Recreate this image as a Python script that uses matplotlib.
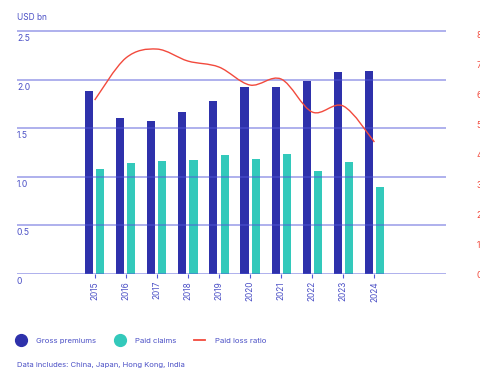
import matplotlib.pyplot as plt
from matplotlib.lines import Line2D
from matplotlib.path import Path
from matplotlib.patches import PathPatch
import numpy as np

years = ["2015", "2016", "2017", "2018", "2019", "2020", "2021", "2022", "2023", "2024"]
gross_premiums = [1.88, 1.61, 1.57, 1.67, 1.78, 1.92, 1.92, 1.99, 2.08, 2.09]
paid_claims = [1.08, 1.14, 1.16, 1.17, 1.22, 1.18, 1.24, 1.06, 1.15, 0.90]
loss_ratio = [58, 72, 75, 71, 69, 63, 65, 54, 56, 44]  # %

left_ticks = [0, 0.5, 1.0, 1.5, 2.0, 2.5]
left_labels = ["0", "0.5", "1.0", "1.5", "2.0", "2.5"]
right_ticks = [0, 10, 20, 30, 40, 50, 60, 70, 80]

NAVY = "#2e31ab"
TEAL = "#33c9bb"
RED = "#f24a3d"
GRID = "#5257d8"
TXT = "#4b50c6"

plt.rcParams["font.family"] = ["Inter", "DejaVu Sans"]

fig = plt.figure(figsize=(4.81, 3.73), dpi=100)
ax = fig.add_axes([0.0353, 0.2654, 0.8917, 0.7076])

x = np.arange(len(years))
w = 0.26
ax.bar(x - 0.18, gross_premiums, w, color=NAVY, zorder=2)
ax.bar(x + 0.18, paid_claims, w, color=TEAL, zorder=2)

ax.set_xlim(-2.5, 11.3)
ax.set_ylim(0, 2.716)
for t in left_ticks:
    ax.axhline(t, color=GRID, alpha=0.5, lw=1.3, zorder=3)
for t, lab in zip(left_ticks, left_labels):
    ax.text(0.0, t - 0.03, lab, transform=ax.get_yaxis_transform(),
            ha="left", va="top", fontsize=6.2, color=TXT)
ax.text(0.0, 2.64, "USD bn", transform=ax.get_yaxis_transform(),
        ha="left", va="center", fontsize=6.0, color=TXT)

ax.set_yticks([])
ax.set_xticks(x)
ax.set_xticklabels(years, rotation=90, fontsize=6.0, color=TXT)
ax.tick_params(axis="x", length=3, width=0.8, color=GRID, pad=2)
for s in ax.spines.values():
    s.set_visible(False)

# paid loss ratio on right axis, smooth curve through the points
ax2 = ax.twinx()
ax2.set_ylim(0, 88)
ax2.set_yticks(right_ticks)
ax2.set_yticklabels([f"{v}%" for v in right_ticks], fontsize=6.2, color=RED)
ax2.tick_params(axis="y", length=0, pad=22)
for s in ax2.spines.values():
    s.set_visible(False)

pts = np.column_stack([x, loss_ratio]).astype(float)
verts = [pts[0]]
codes = [Path.MOVETO]
for i in range(len(pts) - 1):
    p0 = pts[i - 1] if i > 0 else pts[i]
    p3 = pts[i + 2] if i + 2 < len(pts) else pts[i + 1]
    c1 = pts[i] + (pts[i + 1] - p0) / 6
    c2 = pts[i + 1] - (p3 - pts[i]) / 6
    verts += [c1, c2, pts[i + 1]]
    codes += [Path.CURVE4] * 3
ax2.add_patch(PathPatch(Path(verts, codes), fill=False, edgecolor=RED, lw=1.0, zorder=4))

handles = [
    Line2D([], [], marker="o", ls="none", color=NAVY, markersize=8.5),
    Line2D([], [], marker="o", ls="none", color=TEAL, markersize=8.5),
    Line2D([], [], color=RED, lw=1.3),
]
fig.legend(handles, ["Gross premiums", "Paid claims", "Paid loss ratio"],
           loc="center left", bbox_to_anchor=(0.017, 0.087), ncol=3, frameon=False,
           fontsize=5.6, labelcolor=TXT, handlelength=1.4, handletextpad=1.3,
           columnspacing=2.3)
fig.text(0.035, 0.0145, "Data includes: China, Japan, Hong Kong, India",
         fontsize=5.5, color=TXT, ha="left", va="bottom")

fig.savefig("out.png", dpi=100)
